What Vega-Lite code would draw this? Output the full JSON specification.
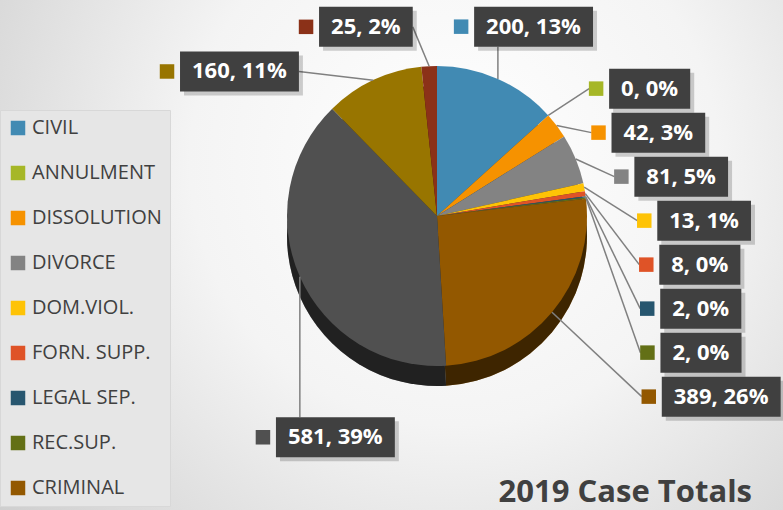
{
  "$schema": "https://vega.github.io/schema/vega-lite/v6.json",
  "width": 783,
  "height": 510,
  "autosize": "none",
  "padding": 0,
  "view": {
    "stroke": null,
    "fill": {
      "gradient": "radial",
      "x1": 0.58, "y1": 0.38, "r1": 0,
      "x2": 0.58, "y2": 0.38, "r2": 0.75,
      "stops": [
        {"offset": 0, "color": "#ffffff"},
        {"offset": 0.45, "color": "#f4f4f4"},
        {"offset": 1, "color": "#cdcdcd"}
      ]
    }
  },
  "config": {
    "axis": {"disable": true},
    "view": {"stroke": null}
  },
  "title": {
    "text": "2019 Case Totals",
    "orient": "bottom",
    "anchor": "end",
    "frame": "group",
    "baseline": "alphabetic",
    "offset": -8,
    "dx": -31,
    "fontSize": 31,
    "font": "Open Sans",
    "fontWeight": "bold",
    "color": "#404040"
  },
  "data": {
    "values": [
      {"idx": 1, "category": "CIVIL", "count": 200, "pct": 13},
      {"idx": 2, "category": "ANNULMENT", "count": 0, "pct": 0},
      {"idx": 3, "category": "DISSOLUTION", "count": 42, "pct": 3},
      {"idx": 4, "category": "DIVORCE", "count": 81, "pct": 5},
      {"idx": 5, "category": "DOM.VIOL.", "count": 13, "pct": 1},
      {"idx": 6, "category": "FORN. SUPP.", "count": 8, "pct": 0},
      {"idx": 7, "category": "LEGAL SEP.", "count": 2, "pct": 0},
      {"idx": 8, "category": "REC.SUP.", "count": 2, "pct": 0},
      {"idx": 9, "category": "CRIMINAL", "count": 389, "pct": 26},
      {"idx": 10, "category": "OTHER 1", "count": 581, "pct": 39},
      {"idx": 11, "category": "OTHER 2", "count": 160, "pct": 11},
      {"idx": 12, "category": "OTHER 3", "count": 25, "pct": 2}
    ]
  },
  "transform": [
    {"joinaggregate": [{"op": "sum", "field": "count", "as": "total"}]},
    {"window": [{"op": "sum", "field": "count", "as": "cum"}], "sort": [{"field": "idx", "order": "ascending"}], "frame": [null, 0]},
    {"calculate": "2*PI*(datum.cum - datum.count)/datum.total", "as": "a0"},
    {"calculate": "2*PI*datum.cum/datum.total", "as": "a1"},
    {"calculate": "(datum.a0 + datum.a1)/2", "as": "amid"},
    {"calculate": "datum.a0 + 0.1*(datum.a1 - datum.a0)", "as": "alab"},
    {"calculate": "sin(datum.alab) > 0 ? 'right' : 'left'", "as": "side"},
    {"calculate": "format(datum.count, 'd') + ', ' + datum.pct + '%'", "as": "label"},
    {"calculate": "12.6*(length(datum.label) - 3) + 31.9", "as": "tw"},
    {"calculate": "cos(datum.alab) > 0 ? -190*cos(datum.alab) : -225*cos(datum.alab)", "as": "yt"},
    {"window": [{"op": "row_number", "as": "k"}], "groupby": ["side"], "sort": [{"field": "idx", "order": "ascending"}]},
    {"calculate": "datum.yt - 44*datum.k", "as": "z"},
    {"window": [{"op": "max", "field": "z", "as": "zmax"}], "groupby": ["side"], "sort": [{"field": "idx", "order": "ascending"}], "frame": [null, 0]},
    {"calculate": "datum.side == 'right' ? datum.zmax + 44*datum.k : datum.yt", "as": "ly"},
    {"calculate": "205*sin(datum.alab)", "as": "px"},
    {"calculate": "datum.side == 'right' ? datum.px : datum.px - 5 - 44 - datum.tw", "as": "ax"},
    {"calculate": "datum.ax + 44 + datum.tw", "as": "bx2"},
    {"calculate": "150*sin(datum.amid)", "as": "lx1"},
    {"calculate": "-150*cos(datum.amid)", "as": "ly1"},
    {"calculate": "datum.lx1 >= datum.ax && datum.lx1 <= datum.bx2", "as": "inside"},
    {"calculate": "clamp(datum.lx1, datum.ax, datum.bx2)", "as": "lx2"},
    {"calculate": "datum.inside ? (datum.ly1 < datum.ly ? datum.ly - 20 : datum.ly + 20) : datum.ly", "as": "ly2"},
    {"calculate": "datum.ax + 7", "as": "sqx"},
    {"calculate": "datum.ax + 20", "as": "bx"},
    {"calculate": "datum.ly - 20", "as": "by"},
    {"calculate": "datum.ly + 20", "as": "by2"},
    {"calculate": "datum.ax + 24", "as": "sbx"},
    {"calculate": "datum.ax + 48 + datum.tw", "as": "sbx2"},
    {"calculate": "datum.ly - 16", "as": "sby"},
    {"calculate": "datum.ly + 24", "as": "sby2"},
    {"calculate": "datum.ax + 32", "as": "tx"}
  ],
  "layer": [
    {
      "mark": {"type": "arc", "outerRadius": 150},
      "encoding": {
        "theta": {"field": "count", "type": "quantitative", "stack": true},
        "order": {"field": "idx", "type": "quantitative"},
        "x": {"datum": 0, "type": "quantitative", "scale": {"domain": [-437, 346], "nice": false, "zero": false}},
        "y": {"datum": 20, "type": "quantitative", "scale": {"domain": [-216, 294], "nice": false, "zero": false, "reverse": true}},
        "color": {
          "field": "category",
          "type": "nominal",
          "scale": {
            "domain": ["CIVIL", "ANNULMENT", "DISSOLUTION", "DIVORCE", "DOM.VIOL.", "FORN. SUPP.", "LEGAL SEP.", "REC.SUP.", "CRIMINAL", "OTHER 1", "OTHER 2", "OTHER 3"],
            "range": ["#418AB3", "#A6B727", "#F69200", "#838383", "#FEC306", "#DF5327", "#27566F", "#637016", "#935800", "#505050", "#987500", "#8B3118"]
          },
          "legend": {
            "orient": "none",
            "legendX": 0,
            "legendY": 110,
            "values": ["CIVIL", "ANNULMENT", "DISSOLUTION", "DIVORCE", "DOM.VIOL.", "FORN. SUPP.", "LEGAL SEP.", "REC.SUP.", "CRIMINAL"],
            "title": null,
            "symbolType": "square",
            "symbolSize": 210,
            "symbolStrokeWidth": 0,
            "labelFont": "Open Sans",
            "labelFontSize": 20,
            "labelColor": "#404040",
            "labelOffset": 4,
            "rowPadding": 25,
            "padding": 8,
            "fillColor": "#e6e6e6",
            "strokeColor": "#d8d8d8"
          }
        }
      }
    },
    {
      "mark": {"type": "arc", "outerRadius": 150, "fill": "#000000", "fillOpacity": 0.58},
      "encoding": {
        "theta": {"field": "count", "type": "quantitative", "stack": true},
        "order": {"field": "idx", "type": "quantitative"},
        "detail": {"field": "category"},
        "x": {"datum": 0, "type": "quantitative"},
        "y": {"datum": 20, "type": "quantitative"}
      }
    },
    {
      "mark": {"type": "arc", "outerRadius": 150},
      "encoding": {
        "theta": {"field": "count", "type": "quantitative", "stack": true},
        "order": {"field": "idx", "type": "quantitative"},
        "x": {"datum": 0, "type": "quantitative"},
        "y": {"datum": 0, "type": "quantitative"},
        "color": {"field": "category", "type": "nominal"}
      }
    },
    {
      "mark": {"type": "rule", "color": "#808080", "strokeWidth": 1.5},
      "encoding": {
        "x": {"field": "lx1", "type": "quantitative"},
        "y": {"field": "ly1", "type": "quantitative"},
        "x2": {"field": "lx2"},
        "y2": {"field": "ly2"}
      }
    },
    {
      "mark": {"type": "rect", "color": "#000000", "opacity": 0.18},
      "encoding": {
        "x": {"field": "sbx", "type": "quantitative"},
        "x2": {"field": "sbx2"},
        "y": {"field": "sby", "type": "quantitative"},
        "y2": {"field": "sby2"}
      }
    },
    {
      "mark": {"type": "rect", "color": "#404040", "opacity": 1},
      "encoding": {
        "x": {"field": "bx", "type": "quantitative"},
        "x2": {"field": "bx2"},
        "y": {"field": "by", "type": "quantitative"},
        "y2": {"field": "by2"}
      }
    },
    {
      "mark": {"type": "point", "shape": "square", "filled": true, "size": 210, "opacity": 1, "strokeWidth": 0},
      "encoding": {
        "x": {"field": "sqx", "type": "quantitative"},
        "y": {"field": "ly", "type": "quantitative"},
        "color": {"field": "category", "type": "nominal"}
      }
    },
    {
      "mark": {"type": "text", "align": "left", "baseline": "middle", "font": "Open Sans", "fontWeight": "bold", "fontSize": 22, "fill": "#ffffff"},
      "encoding": {
        "x": {"field": "tx", "type": "quantitative"},
        "y": {"field": "ly", "type": "quantitative"},
        "text": {"field": "label"}
      }
    }
  ]
}
